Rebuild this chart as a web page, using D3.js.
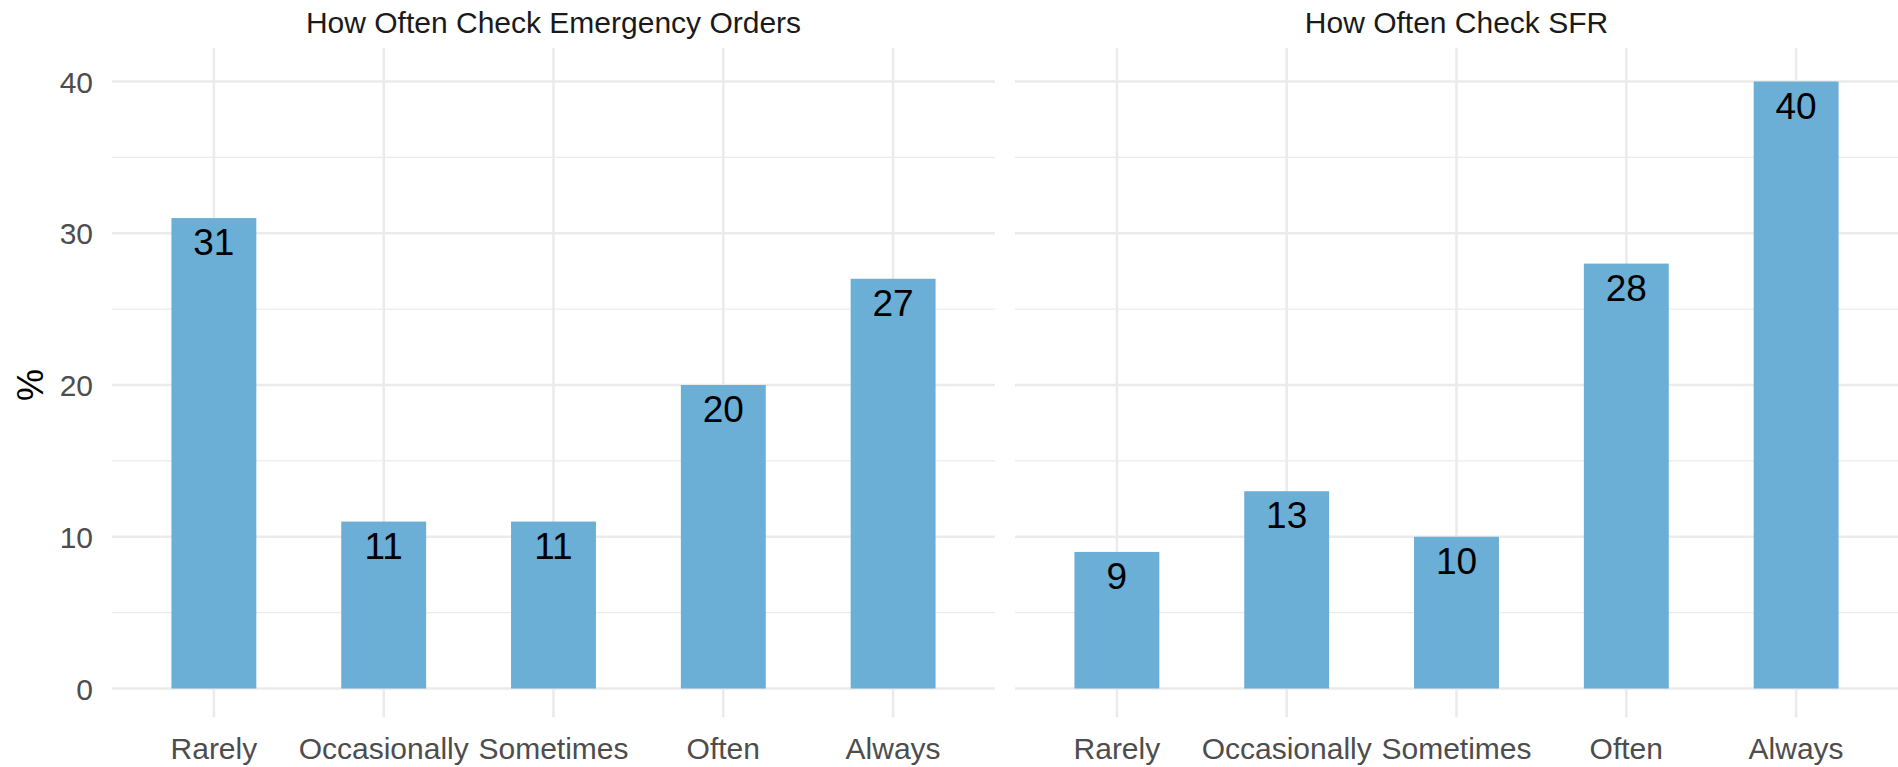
<!DOCTYPE html>
<html>
<head>
<meta charset="utf-8">
<script src="https://cdn.jsdelivr.net/npm/d3@7"></script>
<style>
  body { margin: 0; background: #fff; }
  svg { display: block; font-family: "Liberation Sans", Arial, sans-serif; }
</style>
</head>
<body>
<svg width="1898" height="767"></svg>
<script>
// categories and values per facet
var categories = ["Rarely", "Occasionally", "Sometimes", "Often", "Always"];
var panelTitles = ["How Often Check Emergency Orders", "How Often Check SFR"];
var emergencyValues = [31, 11, 11, 20, 27];
var sfrValues = [9, 13, 10, 28, 40];
var yTicks = [0, 10, 20, 30, 40];
var yMinorTicks = [5, 15, 25, 35];

var svg = d3.select("svg");
var barColor = "#6BAED6";

// shared y scale (both facets use same axis)
var y = d3.scaleLinear().domain([0, 40]).range([688.5, 81.5]);
var gridTop = y(42.2), gridBottom = y(-1.9);

var panels = [
  {title: panelTitles[0], values: emergencyValues, x0: 112, x1: 995},
  {title: panelTitles[1], values: sfrValues, x0: 1015, x1: 1898}
];

panels.forEach(function(p, pi) {
  // ggplot discrete axis expands 0.6 units on each side
  var x = d3.scalePoint().domain(categories).range([p.x0, p.x1]).padding(0.6);
  var step = x.step();
  var g = svg.append("g");

  // minor grid
  g.selectAll(".minor").data(yMinorTicks).enter().append("line")
    .attr("x1", p.x0).attr("x2", p.x1)
    .attr("y1", function(d) { return y(d); }).attr("y2", function(d) { return y(d); })
    .attr("stroke", "#EBEBEB").attr("stroke-width", 1.3);

  // major grid
  g.selectAll(".hmajor").data(yTicks).enter().append("line")
    .attr("x1", p.x0).attr("x2", p.x1)
    .attr("y1", function(d) { return y(d); }).attr("y2", function(d) { return y(d); })
    .attr("stroke", "#EBEBEB").attr("stroke-width", 2.6);
  g.selectAll(".vmajor").data(categories).enter().append("line")
    .attr("x1", function(d) { return x(d); }).attr("x2", function(d) { return x(d); })
    .attr("y1", gridTop).attr("y2", gridBottom)
    .attr("stroke", "#EBEBEB").attr("stroke-width", 2.6);

  // bars (width 0.5 of a category step)
  g.selectAll(".bar").data(p.values).enter().append("rect")
    .attr("x", function(d, i) { return x(categories[i]) - step * 0.25; })
    .attr("width", step * 0.5)
    .attr("y", function(d) { return y(d); })
    .attr("height", function(d) { return y(0) - y(d); })
    .attr("fill", barColor);

  // value labels inside top of bars
  g.selectAll(".lbl").data(p.values).enter().append("text")
    .attr("x", function(d, i) { return x(categories[i]); })
    .attr("y", function(d) { return y(d) + 37; })
    .attr("text-anchor", "middle")
    .style("font-size", "37px")
    .attr("fill", "#000")
    .text(function(d) { return d; });

  // x tick labels
  g.selectAll(".xt").data(categories).enter().append("text")
    .attr("x", function(d) { return x(d); })
    .attr("y", 759)
    .attr("text-anchor", "middle")
    .style("font-size", "30px")
    .attr("fill", "#4D4D4D")
    .text(function(d) { return d; });

  // facet strip title
  g.append("text")
    .attr("x", (p.x0 + p.x1) / 2)
    .attr("y", 33)
    .attr("text-anchor", "middle")
    .style("font-size", "30px")
    .attr("fill", "#1A1A1A")
    .text(p.title);
});

// y tick labels (left facet only)
svg.selectAll(".yt").data(yTicks).enter().append("text")
  .attr("x", 93)
  .attr("y", function(d) { return y(d) + 11; })
  .attr("text-anchor", "end")
  .style("font-size", "30px")
  .attr("fill", "#4D4D4D")
  .text(function(d) { return d; });

// y axis title
svg.append("text")
  .attr("transform", "translate(43," + y(20) + ") rotate(-90)")
  .attr("text-anchor", "middle")
  .style("font-size", "36px")
  .attr("fill", "#000")
  .text("%");
</script>
</body>
</html>
